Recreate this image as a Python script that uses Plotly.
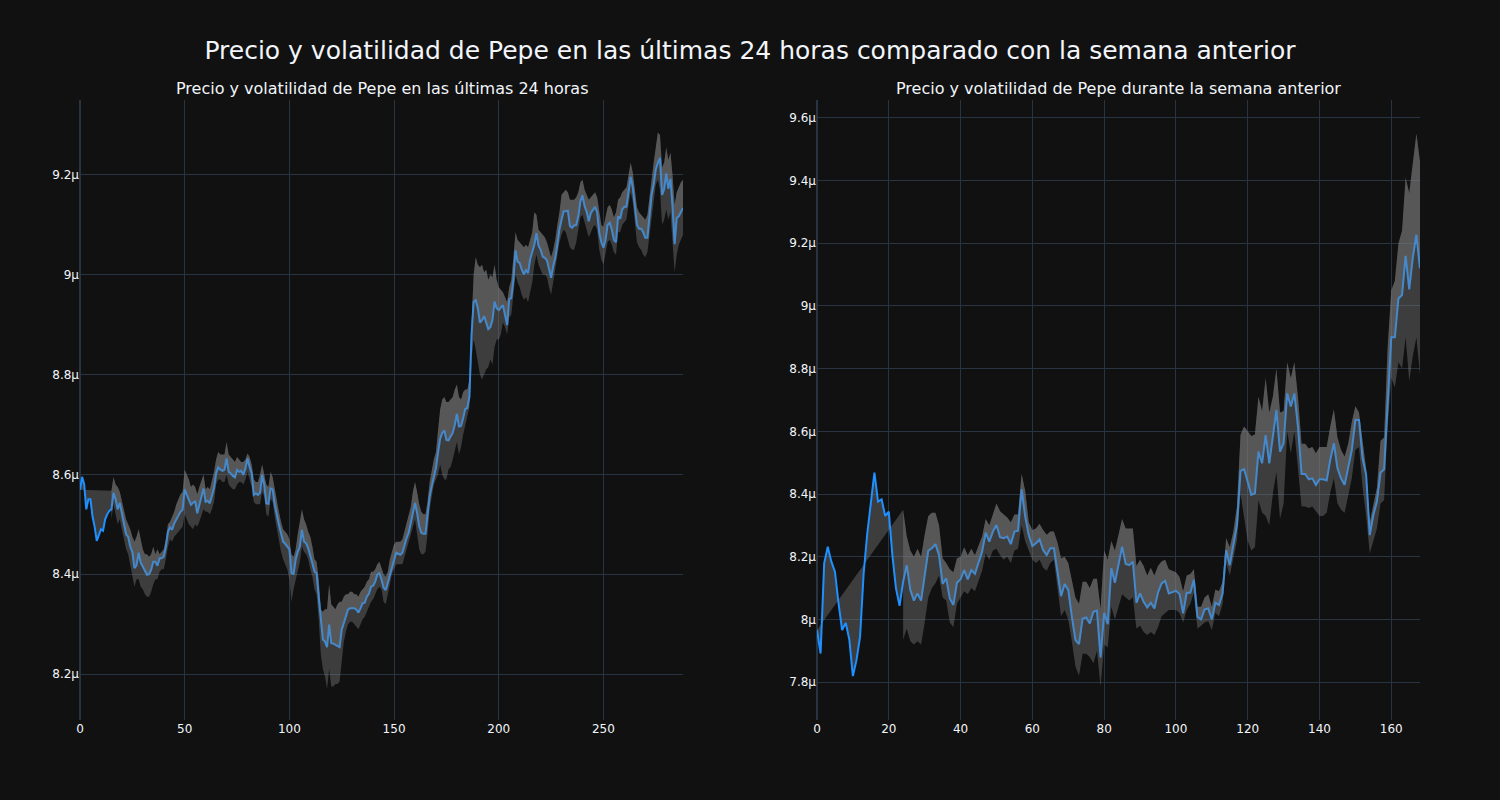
import plotly.graph_objects as go
from plotly.subplots import make_subplots

# ---------------- Data (values in millionths of USD) ----------------
x_24h = list(range(289))
price_24h = [
    8.569, 8.595, 8.58, 8.53, 8.55, 8.55, 8.515, 8.495, 8.467, 8.48,
    8.49, 8.487, 8.51, 8.52, 8.527, 8.53, 8.563, 8.55, 8.53, 8.543,
    8.52, 8.505, 8.48, 8.475, 8.455, 8.445, 8.412, 8.418, 8.443, 8.423,
    8.414, 8.405, 8.399, 8.40, 8.409, 8.425, 8.425, 8.417, 8.432, 8.432,
    8.435, 8.455, 8.485, 8.494, 8.489, 8.502, 8.51, 8.517, 8.525, 8.529,
    8.57, 8.559, 8.547, 8.539, 8.543, 8.547, 8.522, 8.537, 8.552, 8.572,
    8.545, 8.547, 8.542, 8.559, 8.572, 8.602, 8.614, 8.61, 8.607, 8.609,
    8.632, 8.605, 8.602, 8.597, 8.594, 8.609, 8.605, 8.607, 8.599, 8.612,
    8.632, 8.615, 8.602, 8.559, 8.562, 8.559, 8.563, 8.599, 8.579, 8.542,
    8.541, 8.572, 8.57, 8.539, 8.515, 8.499, 8.482, 8.465, 8.461, 8.455,
    8.45, 8.402, 8.401, 8.429, 8.445, 8.455, 8.489, 8.465, 8.462, 8.452,
    8.439, 8.422, 8.405, 8.402, 8.355, 8.309, 8.269, 8.265, 8.254, 8.299,
    8.262, 8.261, 8.259, 8.257, 8.254, 8.289, 8.302, 8.319, 8.329, 8.332,
    8.332, 8.332, 8.329, 8.323, 8.332, 8.342, 8.343, 8.355, 8.361, 8.375,
    8.377, 8.385, 8.399, 8.402, 8.389, 8.373, 8.368, 8.383, 8.399, 8.416,
    8.429, 8.443, 8.441, 8.439, 8.443, 8.459, 8.473, 8.483, 8.503, 8.523,
    8.543, 8.523, 8.496, 8.483, 8.481, 8.481, 8.516, 8.556, 8.576, 8.596,
    8.613, 8.643, 8.671, 8.683, 8.688, 8.669, 8.668, 8.676, 8.683, 8.699,
    8.721, 8.696, 8.697, 8.713, 8.731, 8.733, 8.756, 8.879, 8.946, 8.949,
    8.933, 8.904, 8.909, 8.917, 8.904, 8.891, 8.895, 8.909, 8.946, 8.933,
    8.929, 8.933, 8.939, 8.919, 8.899, 8.951, 8.953, 8.989, 9.049, 9.026,
    9.023, 9.01, 9.001, 9.009, 9.003, 9.031, 9.045, 9.06, 9.083, 9.058,
    9.05, 9.036, 9.034, 9.029, 9.012, 8.994, 9.017, 9.034, 9.061, 9.091,
    9.11, 9.127, 9.127, 9.128, 9.097, 9.094, 9.099, 9.099, 9.117, 9.147,
    9.159, 9.137, 9.126, 9.107, 9.124, 9.129, 9.136, 9.125, 9.084, 9.065,
    9.054, 9.07, 9.1, 9.104, 9.09, 9.07, 9.065, 9.117, 9.112, 9.131,
    9.136, 9.136, 9.168, 9.196, 9.175, 9.14, 9.1, 9.092, 9.092, 9.085,
    9.074, 9.074, 9.12, 9.16, 9.181, 9.211, 9.224, 9.234, 9.16, 9.171,
    9.203, 9.172, 9.192, 9.137, 9.061, 9.114, 9.117, 9.125, 9.134,
]
upper_24h = [None] * 15 + [
    8.567, 8.595, 8.58, 8.575, 8.565, 8.545, 8.53, 8.51, 8.50, 8.49,
    8.475, 8.465, 8.475, 8.49, 8.47, 8.45, 8.44, 8.44, 8.435, 8.44,
    8.455, 8.44, 8.45, 8.44, 8.445, 8.45, 8.47, 8.50, 8.505, 8.515,
    8.525, 8.54, 8.55, 8.56, 8.565, 8.61, 8.60, 8.59, 8.575, 8.58,
    8.575, 8.56, 8.575, 8.59, 8.60, 8.57, 8.575, 8.57, 8.585, 8.605,
    8.63, 8.645, 8.64, 8.64, 8.64, 8.665, 8.64, 8.635, 8.63, 8.625,
    8.635, 8.63, 8.625, 8.625, 8.63, 8.642, 8.635, 8.62, 8.59, 8.585,
    8.585, 8.60, 8.62, 8.60, 8.58, 8.575, 8.605, 8.595, 8.57, 8.545,
    8.525, 8.505, 8.49, 8.485, 8.48, 8.47, 8.44, 8.435, 8.45, 8.48,
    8.505, 8.53, 8.51, 8.50, 8.485, 8.475, 8.455, 8.43, 8.425, 8.39,
    8.33, 8.325, 8.33, 8.33, 8.38, 8.34, 8.335, 8.33, 8.34, 8.345,
    8.345, 8.355, 8.36, 8.36, 8.365, 8.365, 8.36, 8.36, 8.355, 8.365,
    8.37, 8.375, 8.385, 8.39, 8.405, 8.405, 8.41, 8.42, 8.425, 8.41,
    8.40, 8.395, 8.405, 8.43, 8.445, 8.46, 8.465, 8.465, 8.465, 8.47,
    8.485, 8.50, 8.515, 8.535, 8.565, 8.585, 8.565, 8.54, 8.525, 8.52,
    8.52, 8.545, 8.585, 8.61, 8.63, 8.645, 8.69, 8.73, 8.75, 8.755,
    8.745, 8.745, 8.75, 8.755, 8.77, 8.78, 8.755, 8.75, 8.765, 8.77,
    8.77, 8.79, 8.90, 9.0, 9.035, 9.02, 9.015, 9.02, 9.005, 9.01,
    8.99, 9.00, 8.995, 9.02, 8.99, 8.975, 8.97, 8.965, 8.955, 8.945,
    8.975, 8.99, 9.035, 9.085, 9.07, 9.065, 9.06, 9.055, 9.06, 9.055,
    9.07, 9.085, 9.125, 9.12, 9.09, 9.085, 9.08, 9.075, 9.065, 9.05,
    9.035, 9.05, 9.07, 9.1, 9.125, 9.16, 9.165, 9.17, 9.165, 9.15,
    9.15, 9.15, 9.155, 9.165, 9.185, 9.19, 9.17, 9.16, 9.15, 9.155,
    9.16, 9.165, 9.155, 9.13, 9.1, 9.095, 9.115, 9.135, 9.14, 9.13,
    9.115, 9.125, 9.15, 9.155, 9.165, 9.17, 9.175, 9.2, 9.225, 9.205,
    9.17, 9.135, 9.125, 9.12, 9.115, 9.11, 9.12, 9.15, 9.19, 9.225,
    9.26, 9.285, 9.28, 9.215, 9.225, 9.255, 9.23, 9.245, 9.2, 9.14,
    9.165, 9.175, 9.185, 9.19,
]
lower_24h = [None] * 15 + [
    8.51, 8.54, 8.52, 8.50, 8.51, 8.49, 8.47, 8.45, 8.44, 8.42,
    8.40, 8.375, 8.39, 8.39, 8.375, 8.37, 8.36, 8.355, 8.355, 8.365,
    8.38, 8.39, 8.39, 8.405, 8.41, 8.41, 8.43, 8.455, 8.47, 8.465,
    8.475, 8.48, 8.485, 8.49, 8.495, 8.52, 8.51, 8.50, 8.495, 8.49,
    8.50, 8.495, 8.505, 8.52, 8.53, 8.525, 8.525, 8.52, 8.53, 8.545,
    8.58, 8.59, 8.59, 8.585, 8.585, 8.60, 8.58, 8.575, 8.57, 8.57,
    8.58, 8.585, 8.585, 8.58, 8.59, 8.605, 8.59, 8.575, 8.545, 8.54,
    8.54, 8.54, 8.565, 8.555, 8.52, 8.515, 8.55, 8.545, 8.515, 8.49,
    8.465, 8.445, 8.43, 8.42, 8.41, 8.39, 8.345, 8.37, 8.39, 8.41,
    8.425, 8.455, 8.445, 8.44, 8.43, 8.41, 8.395, 8.37, 8.36, 8.31,
    8.24, 8.21, 8.195, 8.17, 8.21, 8.175, 8.175, 8.18, 8.18, 8.185,
    8.23, 8.265, 8.285, 8.30, 8.305, 8.305, 8.30, 8.295, 8.29, 8.30,
    8.31, 8.315, 8.325, 8.335, 8.345, 8.35, 8.36, 8.37, 8.375, 8.37,
    8.345, 8.34, 8.36, 8.38, 8.40, 8.41, 8.42, 8.42, 8.42, 8.42,
    8.435, 8.45, 8.46, 8.475, 8.495, 8.51, 8.48, 8.45, 8.44, 8.44,
    8.445, 8.48, 8.53, 8.56, 8.58, 8.59, 8.60, 8.62, 8.60, 8.59,
    8.59, 8.61, 8.615, 8.63, 8.645, 8.665, 8.64, 8.655, 8.68, 8.70,
    8.715, 8.735, 8.83, 8.87, 8.85, 8.82, 8.80, 8.79, 8.80, 8.81,
    8.815, 8.83, 8.82, 8.855, 8.87, 8.87, 8.88, 8.905, 8.895, 8.88,
    8.915, 8.92, 8.96, 9.0, 8.985, 8.975, 8.96, 8.95, 8.955, 8.945,
    8.965, 8.985, 9.02, 9.04, 9.02, 9.01, 9.0, 9.0, 8.995, 8.975,
    8.96, 8.985, 9.01, 9.04, 9.065, 9.08, 9.09, 9.085, 9.07, 9.055,
    9.05, 9.05, 9.065, 9.09, 9.115, 9.12, 9.105, 9.09, 9.075, 9.085,
    9.095, 9.1, 9.09, 9.05, 9.03, 9.02, 9.045, 9.065, 9.07, 9.06,
    9.045, 9.04, 9.085, 9.085, 9.1, 9.105, 9.11, 9.14, 9.165, 9.145,
    9.105, 9.065, 9.055, 9.05, 9.04, 9.035, 9.045, 9.08, 9.12, 9.15,
    9.18, 9.19, 9.17, 9.1, 9.11, 9.13, 9.11, 9.125, 9.07, 9.005,
    9.04, 9.06, 9.07, 9.08,
]

x_7d = list(range(169))
price_7d = [
    7.966, 7.891, 8.179, 8.232, 8.184, 8.152, 8.051, 7.966, 7.989, 7.936,
    7.819, 7.87, 7.945, 8.147, 8.274, 8.365, 8.468, 8.376, 8.383, 8.33,
    8.344, 8.205, 8.099, 8.043, 8.12, 8.173, 8.094, 8.06, 8.083, 8.06,
    8.147, 8.219, 8.227, 8.24, 8.205, 8.113, 8.131, 8.067, 8.046, 8.117,
    8.128, 8.157, 8.128, 8.157, 8.145, 8.177, 8.216, 8.277, 8.248, 8.28,
    8.301, 8.262, 8.259, 8.264, 8.24, 8.28, 8.283, 8.415, 8.328, 8.269,
    8.234, 8.243, 8.255, 8.221, 8.205, 8.227, 8.227, 8.152, 8.074, 8.113,
    8.094, 8.009, 7.934, 7.921, 8.003, 8.006, 7.987, 8.024, 8.028, 7.879,
    8.021, 7.985, 8.163, 8.117, 8.173, 8.232, 8.177, 8.173, 8.184, 8.053,
    8.083, 8.056, 8.038, 8.053, 8.035, 8.085, 8.115, 8.123, 8.083, 8.088,
    8.091, 8.081, 8.019, 8.085, 8.085, 8.126, 8.008, 8.0, 8.032, 8.035,
    8.0, 8.053, 8.046, 8.083, 8.221, 8.173, 8.237, 8.301, 8.474, 8.479,
    8.439, 8.397, 8.402, 8.535, 8.498, 8.588, 8.498, 8.583, 8.668, 8.535,
    8.562, 8.721, 8.679, 8.721, 8.615, 8.464, 8.464, 8.447, 8.45, 8.429,
    8.447, 8.447, 8.443, 8.509, 8.562, 8.482, 8.45, 8.429, 8.482, 8.54,
    8.636, 8.636, 8.514, 8.461, 8.269, 8.333, 8.376, 8.468, 8.479, 8.711,
    8.9, 8.9, 9.024, 9.035, 9.16, 9.053, 9.155, 9.227, 9.12,
]
upper_7d = [None] * 24 + [
    8.35, 8.265, 8.22, 8.2, 8.225, 8.20,
    8.27, 8.33, 8.34, 8.34, 8.30, 8.195, 8.18, 8.16, 8.15, 8.195,
    8.20, 8.23, 8.205, 8.225, 8.205, 8.235, 8.265, 8.32, 8.30, 8.335,
    8.37, 8.345, 8.335, 8.325, 8.31, 8.335, 8.335, 8.465, 8.41, 8.31,
    8.285, 8.29, 8.305, 8.285, 8.27, 8.28, 8.28, 8.245, 8.195, 8.20,
    8.18, 8.12, 8.07, 8.05, 8.12, 8.12, 8.10, 8.13, 8.13, 8.035,
    8.22, 8.19, 8.25, 8.22, 8.27, 8.32, 8.29, 8.29, 8.29, 8.17,
    8.19, 8.17, 8.14, 8.165, 8.14, 8.17, 8.185, 8.19, 8.16, 8.155,
    8.15, 8.135, 8.09, 8.14, 8.145, 8.16, 8.04, 8.04, 8.07, 8.08,
    8.04, 8.095, 8.09, 8.12, 8.26, 8.23, 8.28, 8.36, 8.59, 8.615,
    8.60, 8.585, 8.59, 8.71, 8.665, 8.77, 8.66, 8.71, 8.80, 8.66,
    8.665, 8.82, 8.77, 8.82, 8.71, 8.56, 8.56, 8.545, 8.55, 8.53,
    8.55, 8.55, 8.55, 8.615, 8.67, 8.58, 8.54, 8.52, 8.56, 8.63,
    8.68, 8.66, 8.56, 8.48, 8.31, 8.37, 8.42, 8.57, 8.58, 8.87,
    9.05, 9.08, 9.2, 9.24, 9.41, 9.36, 9.45, 9.55, 9.46,
]
lower_7d = [None] * 24 + [
    7.935, 7.97, 7.93, 7.92, 7.93, 7.92,
    7.99, 8.07, 8.10, 8.115, 8.14, 8.07, 8.06, 7.99, 7.975, 8.05,
    8.07, 8.09, 8.08, 8.10, 8.09, 8.12, 8.155, 8.21, 8.19, 8.22,
    8.225, 8.205, 8.19, 8.20, 8.18, 8.22, 8.225, 8.30, 8.25, 8.22,
    8.19, 8.18, 8.19, 8.165, 8.155, 8.18, 8.19, 8.10, 8.01, 8.03,
    8.0, 7.93, 7.85, 7.82, 7.89, 7.89, 7.88, 7.86, 7.90, 7.785,
    7.92, 7.91, 8.04, 8.0, 8.04, 8.08, 8.07, 8.06, 8.07, 7.97,
    7.98, 7.96, 7.95, 7.96, 7.95, 7.975, 8.01, 8.02, 8.03, 8.03,
    8.03, 8.02, 7.99, 8.03, 8.05, 8.085, 7.97, 7.98, 7.99, 7.995,
    7.965, 8.02, 8.01, 8.05, 8.18, 8.14, 8.19, 8.25, 8.40, 8.32,
    8.25, 8.22, 8.23, 8.38, 8.34, 8.33, 8.30, 8.40, 8.47, 8.32,
    8.37, 8.60, 8.53, 8.60, 8.48, 8.36, 8.36, 8.355, 8.36, 8.345,
    8.33, 8.33, 8.34, 8.405, 8.45, 8.37, 8.35, 8.34, 8.39, 8.45,
    8.54, 8.55, 8.42, 8.33, 8.21, 8.25, 8.29, 8.37, 8.38, 8.62,
    8.77, 8.74, 8.82, 8.80, 8.90, 8.76, 8.84, 8.90, 8.78,
]

titles = [
    "Precio y volatilidad de Pepe en las últimas 24 horas",
    "Precio y volatilidad de Pepe durante la semana anterior",
]
main_title = "Precio y volatilidad de Pepe en las últimas 24 horas comparado con la semana anterior"


def scale(vals):
    return [None if v is None else v * 1e-6 for v in vals]


fig = make_subplots(rows=1, cols=2, subplot_titles=titles, horizontal_spacing=0.1)

band_fill = "rgba(128,128,128,0.4)"
panels = [
    (1, x_24h, price_24h, upper_24h, lower_24h),
    (2, x_7d, price_7d, upper_7d, lower_7d),
]
for col, xs, price, upper, lower in panels:
    fig.add_trace(go.Scatter(x=xs, y=scale(price), mode="lines",
                             line=dict(color="dodgerblue", width=2),
                             name="Precio", showlegend=False), row=1, col=col)
    fig.add_trace(go.Scatter(x=xs, y=scale(upper), mode="lines",
                             line=dict(width=0, color="rgba(128,128,128,0)"),
                             fill="tonexty", fillcolor=band_fill,
                             name="Superior", showlegend=False), row=1, col=col)
    fig.add_trace(go.Scatter(x=xs, y=scale(lower), mode="lines",
                             line=dict(width=0, color="rgba(128,128,128,0)"),
                             fill="tonexty", fillcolor=band_fill,
                             name="Inferior", showlegend=False), row=1, col=col)

fig.update_xaxes(range=[0, 288], row=1, col=1)
fig.update_xaxes(range=[0, 168], row=1, col=2)
fig.update_yaxes(range=[8.108e-6, 9.35e-6], row=1, col=1)
fig.update_yaxes(range=[7.679e-6, 9.657e-6], row=1, col=2)

fig.update_layout(
    template="plotly_dark",
    width=1500,
    height=800,
    font=dict(family="DejaVu Sans"),
    title=dict(text=main_title, x=0.5, xanchor="center", y=0.9375,
               yanchor="middle", font=dict(size=25)),
    showlegend=False,
)
fig.update_annotations(font=dict(family="DejaVu Sans", size=16))

fig.write_html(
    "out.html",
    config={"displayModeBar": False},
    post_script="document.body.style.margin='0';document.body.style.background='#111111';",
)
